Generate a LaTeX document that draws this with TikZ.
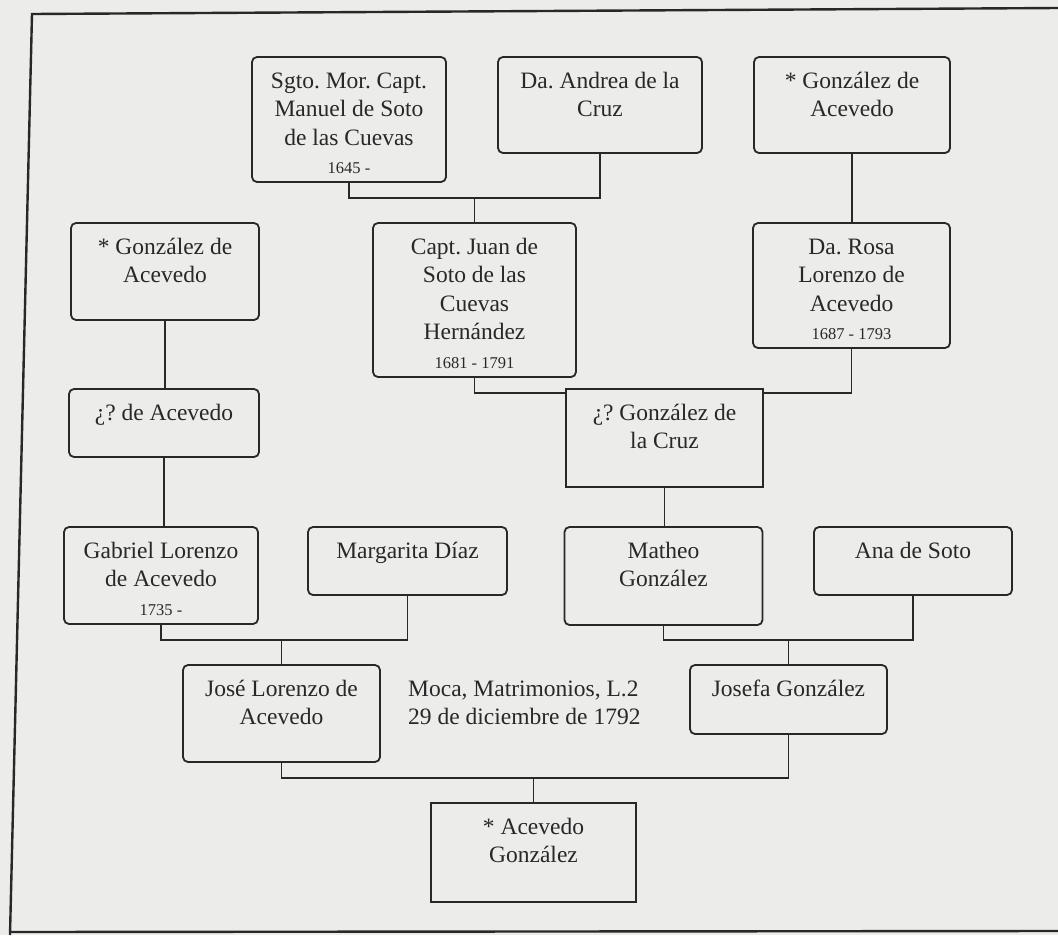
\documentclass[tikz,border=0pt]{standalone}
\usepackage{fontspec}
\setmainfont{Liberation Serif}
\frenchspacing
\definecolor{paper}{RGB}{236,236,234}
\definecolor{ink}{RGB}{40,40,40}
\newcommand{\dt}[1]{{\fontsize{16.5}{28.5}\selectfont #1}}
\pgfdeclarelayer{paperlayer}
\pgfdeclarelayer{linelayer}
\pgfsetlayers{paperlayer,linelayer,main}
\begin{document}
\begin{tikzpicture}[x=1pt,y=-1pt,
  box/.style={draw=ink, line width=1.8pt, fill=paper, rounded corners=5pt, inner sep=0pt},
  sqbox/.style={draw=ink, line width=1.8pt, fill=paper, inner sep=0pt},
  conn/.style={draw=ink, line width=1.7pt},
  frame/.style={draw=ink, line width=2.4pt},
  nm/.style={anchor=base, inner sep=0pt, text=ink, font=\fontsize{23.5}{28.5}\selectfont}]
\begin{pgfonlayer}{paperlayer}
\fill[paper] (0,0) rectangle (1058,935);
\end{pgfonlayer}
\useasboundingbox (0,0) rectangle (1058,935);
\draw[frame] (1058,8) -- (32,14) -- (10,935);
\draw[frame] (10,932) -- (1058,931);
% junction coordinates
\coordinate (m1) at (474.5,198);
\coordinate (m2) at (664.5,393);
\coordinate (m3) at (281.5,640);
\coordinate (m4) at (788.5,640);
\coordinate (m5) at (533.5,778);
% boxes
\path
 node[box, minimum width=194pt, minimum height=125pt] (sgto)   at (349,119.5) {}
 node[box, minimum width=204pt, minimum height=96pt]  (andrea) at (600,105) {}
 node[box, minimum width=196pt, minimum height=96pt]  (gtr)    at (852,105) {}
 node[box, minimum width=188pt, minimum height=97pt]  (gl)     at (165,271.5) {}
 node[box, minimum width=190pt, minimum height=68pt]  (qa)     at (164,423) {}
 node[box, minimum width=203pt, minimum height=154pt] (juan)   at (474.5,300) {}
 node[box, minimum width=197pt, minimum height=125pt] (rosa)   at (851.5,285.5) {}
 node[sqbox, minimum width=197pt, minimum height=98pt] (qg)    at (664.5,438) {}
 node[box, minimum width=194pt, minimum height=97pt]  (gab)    at (161,575.5) {}
 node[box, minimum width=199pt, minimum height=68pt]  (marg)   at (407.5,561) {}
 node[box, minimum width=198pt, minimum height=98pt]  (mat)    at (663.5,576) {}
 node[box, minimum width=198pt, minimum height=68pt]  (ana)    at (913,561) {}
 node[box, minimum width=197pt, minimum height=97pt]  (jose)   at (281.5,713.5) {}
 node[box, minimum width=197pt, minimum height=69pt]  (josefa) at (788.5,699.5) {}
 node[sqbox, minimum width=205pt, minimum height=99pt] (ag)    at (533.5,852.5) {};
% texts
\node[nm] (sgtoT)   at ([yshift=-32pt]sgto.north)   {\parbox[t]{190pt}{\centering Sgto. Mor. Capt.\\ Manuel de Soto\\ de las Cuevas\\ \dt{1645 -}}};
\node[nm] (andreaT) at ([yshift=-32pt]andrea.north) {\parbox[t]{200pt}{\centering Da. Andrea de la\\ Cruz}};
\node[nm] (gtrT)    at ([yshift=-32pt]gtr.north)    {\parbox[t]{190pt}{\centering * González de\\ Acevedo}};
\node[nm] (glT)     at ([yshift=-32pt]gl.north)     {\parbox[t]{184pt}{\centering * González de\\ Acevedo}};
\node[nm] (juanT)   at ([yshift=-32pt]juan.north)   {\parbox[t]{198pt}{\centering Capt. Juan de\\ Soto de las\\ Cuevas\\ Hernández\\ \dt{1681 - 1791}}};
\node[nm] (rosaT)   at ([yshift=-32pt]rosa.north)   {\parbox[t]{190pt}{\centering Da. Rosa\\ Lorenzo de\\ Acevedo\\ \dt{1687 - 1793}}};
\node[nm] (qaT)     at ([yshift=-32pt]qa.north)     {\parbox[t]{186pt}{\centering ¿? de Acevedo}};
\node[nm] (qgT)     at ([yshift=-32pt]qg.north)     {\parbox[t]{190pt}{\centering ¿? González de\\ la Cruz}};
\node[nm] (gabT)    at ([yshift=-32pt]gab.north)    {\parbox[t]{190pt}{\centering Gabriel Lorenzo\\ de Acevedo\\ \dt{1735 -}}};
\node[nm] (margT)   at ([yshift=-32pt]marg.north)   {\parbox[t]{195pt}{\centering Margarita Díaz}};
\node[nm] (matT)    at ([yshift=-32pt]mat.north)    {\parbox[t]{190pt}{\centering Matheo\\ González}};
\node[nm] (anaT)    at ([yshift=-32pt]ana.north)    {\parbox[t]{190pt}{\centering Ana de Soto}};
\node[nm] (joseT)   at ([yshift=-32pt]jose.north)   {\parbox[t]{193pt}{\centering José Lorenzo de\\ Acevedo}};
\node[nm] (josefaT) at ([yshift=-32pt]josefa.north) {\parbox[t]{193pt}{\centering Josefa González}};
\node[nm] (agT)     at ([yshift=-32pt]ag.north)     {\parbox[t]{200pt}{\centering * Acevedo\\ González}};
\node[nm, anchor=base west] (moca) at (408,696) {\parbox[t]{270pt}{\raggedright Moca, Matrimonios, L.2\\ 29 de diciembre de 1792}};
% connectors (behind the boxes)
\begin{pgfonlayer}{linelayer}
\draw[conn] (sgto.south) |- (m1) -| (andrea.south);
\draw[conn] (m1) -- (juan.north);
\draw[conn] (gl.south) -- (gl.south |- qa.north);
\draw[conn] (qa.south) -- (qa.south |- gab.north);
\draw[conn] (gtr.south) -- (gtr.south |- rosa.north);
\draw[conn] (juan.south) |- (m2) -| (rosa.south);
\draw[conn] (qg.south) -- (qg.south |- mat.north);
\draw[conn] (gab.south) |- (m3) -| (marg.south);
\draw[conn] (m3) -- (jose.north);
\draw[conn] (mat.south) |- (m4) -| (ana.south);
\draw[conn] (m4) -- (josefa.north);
\draw[conn] (jose.south) |- (m5) -| (josefa.south);
\draw[conn] (m5) -- (ag.north);
\end{pgfonlayer}
\end{tikzpicture}
\end{document}
